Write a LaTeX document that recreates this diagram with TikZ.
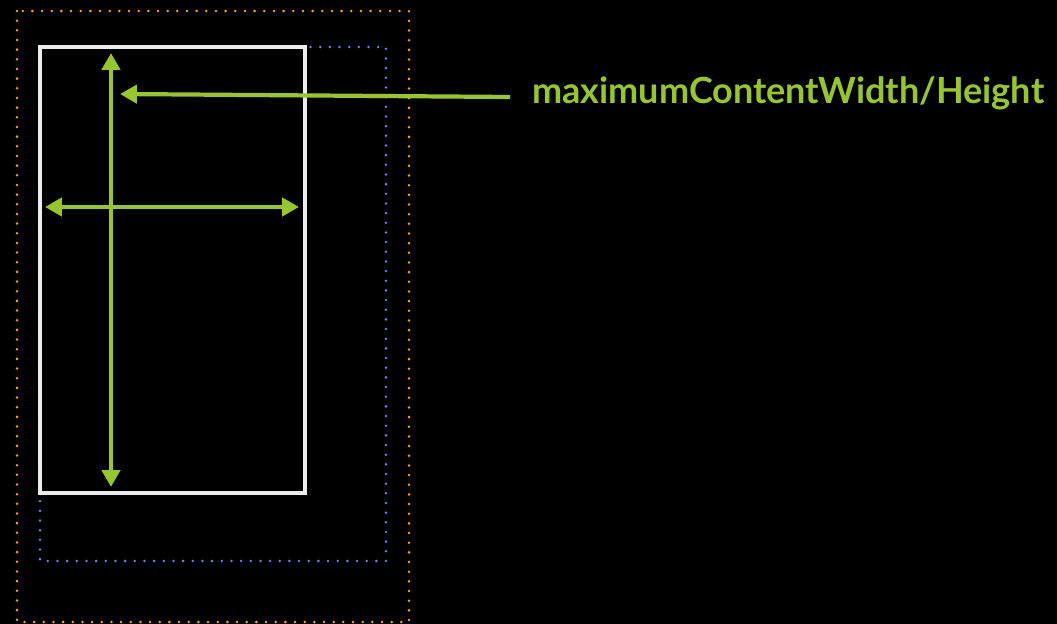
\documentclass[tikz,border=0pt]{standalone}
\usepackage{fontspec}
\setmainfont{Lato}
\usetikzlibrary{arrows.meta, positioning}
\definecolor{limegreen}{RGB}{150, 198, 42}
\definecolor{dotorange}{RGB}{245, 165, 20}
\definecolor{dotblue}{RGB}{115, 125, 240}
\definecolor{framewhite}{RGB}{236, 236, 236}

\begin{document}
\begin{tikzpicture}[
  x=0.02cm, y=-0.02cm,
  >={Triangle[length=9.6pt, width=10.2pt]},
  orangedots/.style={draw=dotorange, line width=1.6pt, line cap=round, dash pattern=on 0pt off 5.5pt},
  bluedots/.style={draw=dotblue, line width=1.6pt, line cap=round, dash pattern=on 0pt off 5.5pt},
  contentbox/.style={draw=framewhite, line width=2.2pt},
  dimarrow/.style={<->, line width=2.4pt, color=limegreen},
  ptrarrow/.style={->, line width=2.4pt, color=limegreen},
  lbl/.style={text=limegreen, font=\fontsize{20.5}{24}\selectfont\bfseries, inner sep=0pt, anchor=base west}
]
  % Background
  \fill[black] (0,0) rectangle (1057,624);
  \useasboundingbox (0,0) rectangle (1057,624);

  % Frames
  \draw[orangedots] (17,11) rectangle (409,622);
  \draw[bluedots] (40,47) rectangle (386,561);
  \draw[contentbox] (40,47) rectangle (305,493);

  % Dimension arrows
  \coordinate (vtop) at (111,53);
  \coordinate (vbot) at (111,487);
  \coordinate (hleft) at (45,207);
  \coordinate (hright) at (299,207);
  \draw[dimarrow] (vtop) -- (vbot);
  \draw[dimarrow] (hleft) -- (hright);

  % Label
  \node[lbl] (maxlabel) at (532,104) {maximumContentWidth/Height};
  \coordinate (ptrstart) at (510,97);
  \coordinate (ptrtip) at (120,94);
  \draw[ptrarrow] (ptrstart) -- (ptrtip);
\end{tikzpicture}
\end{document}
